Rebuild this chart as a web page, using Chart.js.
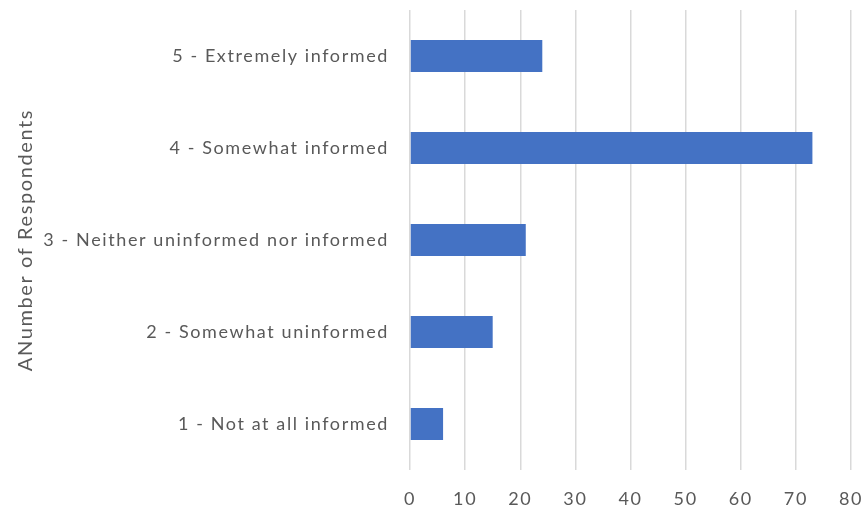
<!DOCTYPE html>
<html>
<head>
<meta charset="utf-8">
<script src="https://cdn.jsdelivr.net/npm/chart.js@4/dist/chart.umd.min.js"></script>
<style>
  html, body { margin: 0; padding: 0; background: #ffffff; }
  #wrap { width: 864px; height: 514px; }
</style>
</head>
<body>
<div id="wrap"><canvas id="chart" width="864" height="514"></canvas></div>
<script>
// Survey responses: how informed respondents feel
const categories = [
  '5 - Extremely informed',
  '4 - Somewhat informed',
  '3 - Neither uninformed nor informed',
  '2 - Somewhat uninformed',
  '1 - Not at all informed'
];
const respondents = [24, 73, 21, 15, 6];
const xTicks = [0, 10, 20, 30, 40, 50, 60, 70, 80];
const axisTitle = 'ANumber of Respondents';

const textColor = '#595959';
const fontFamily = 'Lato, "Open Sans", sans-serif';

// The canvas state is reset whenever Chart.js sizes the canvas,
// so the text spacing is re-applied before measuring and drawing.
const spacedText = {
  id: 'spacedText',
  beforeUpdate(chart) { chart.ctx.letterSpacing = '1.6px'; },
  beforeDraw(chart) { chart.ctx.letterSpacing = '1.6px'; }
};

new Chart(document.getElementById('chart'), {
  type: 'bar',
  data: {
    labels: categories,
    datasets: [{
      data: respondents,
      backgroundColor: '#4472C4',
      borderWidth: 0,
      categoryPercentage: 1,
      barPercentage: 0.348
    }]
  },
  plugins: [spacedText],
  options: {
    indexAxis: 'y',
    responsive: false,
    animation: false,
    layout: { padding: { top: 10, right: 13, bottom: 0, left: 0 } },
    plugins: {
      legend: { display: false },
      tooltip: { enabled: false }
    },
    scales: {
      x: {
        min: xTicks[0],
        max: xTicks[xTicks.length - 1],
        afterBuildTicks: s => { s.ticks = xTicks.map(v => ({ value: v })); },
        afterFit: s => { s.height = 44; s.paddingLeft = 0; s.paddingRight = 0; },
        grid: { color: '#d9d9d9', lineWidth: 1.5, drawTicks: false },
        border: { display: false },
        ticks: {
          color: textColor,
          padding: 18,
          font: { family: fontFamily, size: 18 }
        }
      },
      y: {
        afterFit: s => { s.width = 410; s.paddingTop = 0; s.paddingBottom = 0; },
        grid: { display: false, drawTicks: false },
        border: { display: false },
        ticks: {
          color: textColor,
          padding: 21,
          font: { family: fontFamily, size: 18 }
        },
        title: {
          display: true,
          text: axisTitle,
          color: textColor,
          padding: { top: 14, bottom: 0 },
          font: { family: fontFamily, size: 20 }
        }
      }
    }
  }
});
</script>
</body>
</html>
